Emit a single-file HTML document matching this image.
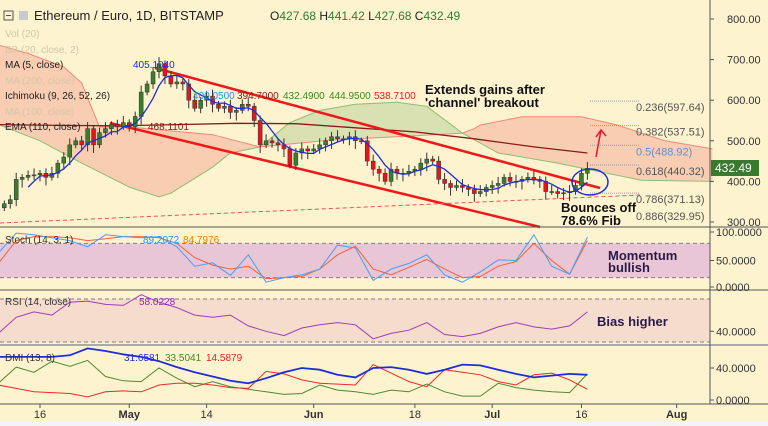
<!DOCTYPE html>
<html><head><meta charset="utf-8">
<style>
html,body{margin:0;padding:0;background:#fff;}
svg{display:block;font-family:"Liberation Sans",sans-serif;}
</style></head>
<body>
<svg id="c" width="768" height="426" viewBox="0 0 768 426" xmlns="http://www.w3.org/2000/svg">
<rect x="0" y="0" width="768" height="422" fill="#fdf3cf"/>
<rect x="0" y="421" width="768" height="5" fill="#f4f4f4"/>
<g id="cloud"></g>
<g id="main"></g>
<g id="subs"></g>
<g id="axes"></g>
<g id="legend" font-size="10">
  <rect x="4" y="11" width="9" height="9" fill="none" stroke="#555"/>
  <line x1="6" y1="15.5" x2="11" y2="15.5" stroke="#555"/>
  <rect x="19" y="11" width="9" height="9" fill="#c9c9d0"/>
  <text x="34" y="20" font-size="13" fill="#222">Ethereum / Euro, 1D, BITSTAMP</text>
  <text x="270" y="20" font-size="12" fill="#222">O<tspan fill="#2e7d32">427.68</tspan>  H<tspan fill="#2e7d32">441.42</tspan>  L<tspan fill="#2e7d32">427.68</tspan>  C<tspan fill="#2e7d32">432.49</tspan></text>
  <text x="5" y="37" fill="#d3c7a8">Vol (20)</text>
  <text x="5" y="53" fill="#d3c7a8">BB (20, close, 2)</text>
  <text x="5" y="68" fill="#222">MA (5, close)</text>
  <text x="133" y="68" fill="#1e2ed6">405.1040</text>
  <text x="5" y="84" fill="#d3c7a8">MA (200, close)</text>
  <text x="5" y="99" fill="#222">Ichimoku (9, 26, 52, 26)</text>
  <text x="193" y="99" fill="#2196f3">400.0500</text>
  <text x="237" y="99" fill="#8b1a1a">394.7000</text>
  <text x="283" y="99" fill="#3c8a1e">432.4900</text>
  <text x="329" y="99" fill="#3c8a1e">444.9500</text>
  <text x="374" y="99" fill="#e52020">538.7100</text>
  <text x="5" y="115" fill="#d3c7a8">MA (100, close)</text>
  <text x="5" y="130" fill="#222">EMA (110, close)</text>
  <text x="148" y="130" fill="#8b1a1a">468.1101</text>
  <text x="5" y="243" fill="#333">Stoch (14, 3, 1)</text>
  <text x="143" y="243" fill="#2196f3">89.2072</text>
  <text x="183" y="243" fill="#f57c00">84.7976</text>
  <text x="5" y="305" fill="#333">RSI (14, close)</text>
  <text x="139" y="305" fill="#9c27b0">58.0228</text>
  <text x="5" y="361" fill="#333">DMI (13, 8)</text>
  <text x="124" y="361" fill="#1e2ed6">31.6581</text>
  <text x="165" y="361" fill="#3c8a1e">33.5041</text>
  <text x="206" y="361" fill="#e52020">14.5879</text>
</g>
<g id="annot" font-weight="bold" font-size="13" fill="#111">
  <text x="425" y="94">Extends gains after</text>
  <text x="425" y="107">'channel' breakout</text>
  <text x="561" y="212">Bounces off</text>
  <text x="561" y="225">78.6% Fib</text>
  <text x="608" y="260" fill="#2a1a4a">Momentum</text>
  <text x="608" y="272" fill="#2a1a4a">bullish</text>
  <text x="597" y="326" fill="#2a1a4a">Bias higher</text>
</g>
</svg>
<script>
// ---- data ----
var closes=[345,355,405,410,415,416,420,410,420,445,460,490,500,490,530,490,520,530,540,535,545,535,560,620,640,670,690,660,640,645,640,600,580,600,610,590,580,585,570,575,590,585,550,490,500,495,490,480,440,470,480,475,480,490,500,510,505,505,510,500,500,450,430,420,400,430,420,420,425,430,445,455,450,405,395,385,390,385,380,370,375,385,390,395,410,400,400,405,410,405,400,375,375,370,372,375,390,420,432];
var cloudDaysB=[0,5,11,14,17,22,36,40,44,56,67,78,80,81,88,98,104,112,120];
var spanB=[736,715,682,642,534,534,515,500,485,502,510,519,530,539,559,559,539,500,480];
var cloudDaysA=[0,7,14,22,27,29,36,39,44,49,54,60,67,72,78,84,94,108,120];
var spanA=[540,500,445,386,362,371,435,470,485,545,575,590,595,585,519,470,445,403,400];
var emaDays=[0,10,20,30,40,50,60,70,80,90,99];
var ema110=[540,538,537,540,543,542,532,522,505,485,470];
var subDays=[0,3,6,9,12,15,18,21,24,27,30,33,36,39,42,45,48,51,54,57,60,63,66,69,72,75,78,81,84,87,90,93,96,99];
var stochK=[63,98,95,90,85,74,95,92,90,92,74,40,46,24,60,12,20,25,35,77,72,15,35,45,60,25,12,30,51,50,95,40,26,91];
var stochD=[45,85,92,92,90,85,88,92,92,90,80,55,42,35,40,18,20,22,35,60,75,35,25,38,52,35,20,22,40,48,80,50,26,85];
var rsi=[38,53,58,55,67,68,65,64,74,67,62,55,53,55,45,40,36,43,46,48,46,33,38,41,48,37,35,38,44,48,44,42,45,58];
var adx=[53,53,53,53,55,63,60,56,53,48,41,35,30,25,22,28,35,40,38,32,29,40,41,38,33,38,44,43,38,33,29,31,33,32];
var plusDI=[22,41,35,48,42,49,30,25,24,40,28,18,24,18,15,12,9,10,20,14,12,9,14,12,21,12,7,7,22,17,14,12,11,33];
var minusDI=[20,16,12,11,10,6,12,13,12,20,22,22,20,17,16,36,33,26,22,21,20,44,34,24,18,38,35,32,24,20,32,34,26,15];
var priceTicks=[800,700,600,500,400,300];
var fibRatios=["0.236","0.382","0.5","0.618","0.786","0.886"];
var fibPrices=[597.64,537.51,488.92,440.32,371.13,329.95];
var timeLabels=["16","May","14","Jun","18","Jul","16","Aug"];
var timeDays=[7,22,35,53,70,83,98,114];

// ---- scales ----
var NS="http://www.w3.org/2000/svg";
function X(d){return 40+(d-7)*5.95;}
function Y(p){return 19+(800-p)*0.406;}
function YS(v){return 289-v*0.57;}
function YR(v){return 342-(v-30)*1.075;}
function YD(v){return 402-v*0.85;}
function mk(tag,attrs,parent){var e=document.createElementNS(NS,tag);for(var k in attrs)e.setAttribute(k,attrs[k]);parent.appendChild(e);return e;}
function interp(ds,vs,d){for(var i=0;i<ds.length-1;i++){if(d>=ds[i]&&d<=ds[i+1]){var t=(d-ds[i])/(ds[i+1]-ds[i]);return vs[i]+t*(vs[i+1]-vs[i]);}}return vs[vs.length-1];}
function pts(ds,vs,fy){return ds.map(function(d,i){return X(d).toFixed(1)+","+fy(vs[i]).toFixed(1);}).join(" ");}

var cloud=document.getElementById('cloud'),main=document.getElementById('main'),subs=document.getElementById('subs'),axes=document.getElementById('axes');

// ---- cloud ----
var samp=[];for(var d=0;d<=120;d+=0.5)samp.push(d);
var runs=[],cur=null;
samp.forEach(function(d){var a=interp(cloudDaysA,spanA,d),b=interp(cloudDaysB,spanB,d),s=a>=b;if(!cur||cur.s!==s){if(cur)cur.pts.push({d:d,a:a,b:b});cur={s:s,pts:[]};runs.push(cur);}cur.pts.push({d:d,a:a,b:b});});
runs.forEach(function(r){
  var top=r.pts.map(function(p){return X(p.d).toFixed(1)+","+Y(p.a).toFixed(1);});
  var bot=r.pts.slice().reverse().map(function(p){return X(p.d).toFixed(1)+","+Y(p.b).toFixed(1);});
  var e=mk('polygon',{points:top.concat(bot).join(" "),fill:r.s?"#d9e0b2":"#f9cdb2"},cloud);
  
  
});
var la=mk('polyline',{points:pts(cloudDaysA,spanA,Y),fill:"none",stroke:"#8fbc74","stroke-width":1},cloud);


var lb=mk('polyline',{points:pts(cloudDaysB,spanB,Y),fill:"none",stroke:"#f0897a","stroke-width":1},cloud);



// ---- ema ----
var em=mk('polyline',{points:pts(emaDays,ema110,Y),fill:"none",stroke:"#8b1a1a","stroke-width":1.3},main);



// ---- channel lines ----
var ch=[[155,68,600,188],[110,123,540,227]];
ch.forEach(function(c,i){var l=mk('line',{x1:c[0],y1:c[1],x2:c[2],y2:c[3],stroke:"#f01818","stroke-width":2.5},main);

});
var dl=mk('line',{x1:0,y1:223,x2:640,y2:195,stroke:"#f05050","stroke-width":1,"stroke-dasharray":"4,3"},main);



// ---- candles ----
var cg=mk('g',{},main);


closes.forEach(function(c,i){
  var d=i+1,o=i?closes[i-1]:c-10,up=c>=o;
  var hi=Math.max(o,c)+8+(i%3)*4,lo=Math.min(o,c)-8-(i%4)*4;
  var x=X(d),col=up?"#3a7d2a":"#e3161b";
  var w=mk('line',{x1:x,y1:Y(hi),x2:x,y2:Y(lo),stroke:"#333","stroke-width":1},cg);
  
  
  var top=Y(Math.max(o,c)),h=Math.max(1,Y(Math.min(o,c))-top);
  var r=mk('rect',{x:x-2,y:top,width:4,height:h,fill:col,stroke:"#333","stroke-width":0.5},cg);
  
  
});

// ---- MA5 ----
var maD=[],maV=[];
for(var i=4;i<closes.length;i++){var s=0;for(var j=i-4;j<=i;j++)s+=closes[j];maD.push(i+1);maV.push(s/5);}
var ma=mk('polyline',{points:pts(maD,maV,Y),fill:"none",stroke:"#1e2ed6","stroke-width":1.3},main);



// ---- fib levels ----
fibPrices.forEach(function(p,i){
  var y=Y(p);
  if(i<5){var l=mk('line',{x1:590,y1:y,x2:640,y2:y,stroke:"#999","stroke-width":1,"stroke-dasharray":"1,1"},main);
  
  }
  var t=mk('text',{x:636,y:y+10,"font-size":"11",fill:i===2?"#5b8fd8":"#555"},main);
  t.textContent=fibRatios[i]+"("+p.toFixed(2)+")";
  
  
});

// annotations shapes
var el=mk('ellipse',{cx:590,cy:182,rx:18,ry:13,fill:"none",stroke:"#1e2ed6","stroke-width":1.5},main);


[[596,157,601,130],[590,270,596,244],[590,335,596,303]].forEach(function(a){
  var g=mk('g',{stroke:"#ee1133","stroke-width":1.5,fill:"none"},main);
  
  
  mk('line',{x1:a[0],y1:a[1],x2:a[2],y2:a[3]},g);
  mk('polyline',{points:(a[2]-5)+","+(a[3]+7)+" "+a[2]+","+a[3]+" "+(a[2]+5)+","+(a[3]+6)},g);
});

// ---- sub panes ----
var sb=mk('rect',{x:0,y:YS(80),width:710,height:YS(20)-YS(80),fill:"#e9c6d6"},subs);


var rb=mk('rect',{x:0,y:YR(70),width:710,height:YR(30)-YR(70),fill:"#f6dccd"},subs);


[YS(80),YS(20),YR(70),YR(30)].forEach(function(v){var l=mk('line',{x1:0,y1:v,x2:710,y2:v,stroke:"#8a7a8a","stroke-width":1,"stroke-dasharray":"4,3"},subs);

});
function series(vals,fy,col,w,name){var l=mk('polyline',{points:pts(subDays,vals,fy),fill:"none",stroke:col,"stroke-width":w},subs);

}
series(stochD,YS,"#f4623a",1,"stoch-d-line");
series(stochK,YS,"#4a9ff0",1,"stoch-k-line");
series(rsi,YR,"#9c3fb5",1,"rsi-line");
series(plusDI,YD,"#4e8a2e",1,"dmi-plus-line");
series(minusDI,YD,"#ee2a2a",1,"dmi-minus-line");
series(adx,YD,"#1e2ed6",1.8,"dmi-adx-line");

// ---- axes ----
[227,290,345,404].forEach(function(y,i){var l=mk('line',{x1:0,y1:y,x2:768,y2:y,stroke:i===2?"#aaa":"#555","stroke-width":i===2?2:1},axes);

});
var ra=mk('line',{x1:710,y1:0,x2:710,y2:404,stroke:"#555","stroke-width":1},axes);


priceTicks.forEach(function(p){var t=mk('text',{x:727,y:Y(p)+4,"font-size":"11",fill:"#333"},axes);t.textContent=p.toFixed(2);


mk('line',{x1:710,y1:Y(p),x2:714,y2:Y(p),stroke:"#555"},axes);});
[[YS(100),"100.0000"],[YS(50),"50.0000"],[YS(0)-2,"0.0000"],[YR(40),"40.0000"],[YD(40),"40.0000"],[YD(0)-2,"0.0000"]].forEach(function(a){
  var t=mk('text',{x:716,y:a[0]+4,"font-size":"11",fill:"#333"},axes);t.textContent=a[1];
  
  
  mk('line',{x1:710,y1:a[0],x2:714,y2:a[0],stroke:"#555"},axes);
});
var pl=mk('rect',{x:711,y:160,width:48,height:16,fill:"#3a7a2e"},axes);


var plt=mk('text',{x:715,y:172,"font-size":"12",fill:"#fff"},axes);plt.textContent="432.49";


timeLabels.forEach(function(s,i){var x=X(timeDays[i]);
  mk('line',{x1:x,y1:404,x2:x,y2:408,stroke:"#555"},axes);
  var t=mk('text',{x:x,y:418,"font-size":"11","text-anchor":"middle",fill:"#333","font-weight":/^\d/.test(s)?"normal":"bold"},axes);t.textContent=s;
  
  });
</script>
</body></html>
